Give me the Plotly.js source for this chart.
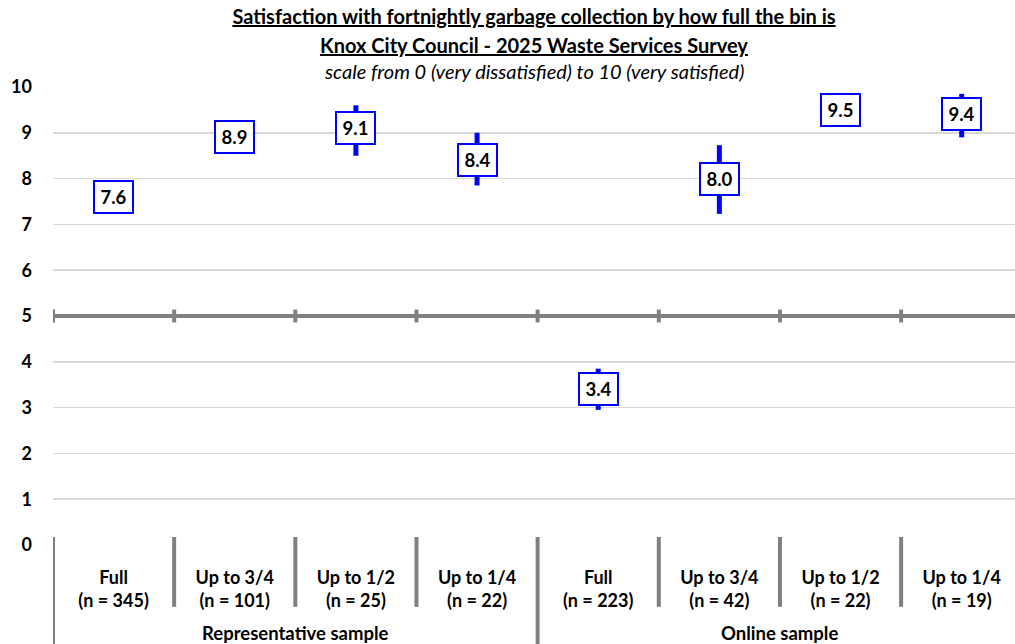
<!DOCTYPE html>
<html>
<head>
<meta charset="utf-8">
<script src="https://cdn.plot.ly/plotly-3.0.1.min.js"></script>
<style>html,body{margin:0;padding:0;background:#fff;}#chart{width:1015px;height:644px;}</style>
</head>
<body>
<div id="chart"></div>
<script>
// ---- data ----
const categories = ['Full', 'Up to 3/4', 'Up to 1/2', 'Up to 1/4', 'Full', 'Up to 3/4', 'Up to 1/2', 'Up to 1/4'];
const sampleSizes = [345, 101, 25, 22, 223, 42, 22, 19];
const groups = ['Representative sample', 'Online sample'];
const groupSizes = [4, 4];
const means = [7.6, 8.9, 9.1, 8.4, 3.4, 8.0, 9.5, 9.4];
const errPlus = [0.25, 0.3, 0.5, 0.6, 0.45, 0.73, 0.37, 0.45];
const errMinus = [0.25, 0.3, 0.6, 0.55, 0.45, 0.77, 0.37, 0.5];
const yTicks = [0, 1, 2, 3, 4, 5, 6, 7, 8, 9, 10];
const titleLines = ['Satisfaction with fortnightly garbage collection by how full the bin is',
                    'Knox City Council - 2025 Waste Services Survey',
                    'scale from 0 (very dissatisfied) to 10 (very satisfied)'];

const FONT = 'Lato, "Open Sans", sans-serif';
const BLUE = '#0000ff';
const GREY = '#808080';
const xIdx = categories.map((_, i) => i);

const trace = {
  x: xIdx, y: means, type: 'scatter', mode: 'markers',
  marker: {size: 1, color: 'rgba(0,0,0,0)'},
  error_y: {type: 'data', symmetric: false, array: errPlus, arrayminus: errMinus,
            color: BLUE, thickness: 5, width: 0},
  hoverinfo: 'skip', showlegend: false
};

const shapes = [];
const annotations = [];

// thick midline at 5 with boundary ticks
shapes.push({type: 'line', xref: 'paper', yref: 'y', x0: 0, x1: 1, y0: 5, y1: 5,
             line: {color: GREY, width: 4}, layer: 'above'});
const boundaries = [];
for (let i = 0; i <= categories.length; i++) boundaries.push(i - 0.5);
boundaries.forEach(b => {
  shapes.push({type: 'line', xref: 'x', yref: 'y', x0: b, x1: b, y0: 4.86, y1: 5.14,
               line: {color: GREY, width: 4}, layer: 'above'});
});
// category dividers below the axis
const groupEdges = [-0.5];
let acc = -0.5;
groupSizes.forEach(s => { acc += s; groupEdges.push(acc); });
boundaries.forEach(b => {
  const isGroup = groupEdges.some(g => Math.abs(g - b) < 1e-9);
  shapes.push({type: 'line', xref: 'x', yref: 'paper', x0: b, x1: b,
               y0: 0.0175, y1: isGroup ? -0.22 : -0.135,
               line: {color: GREY, width: 4}, layer: 'above'});
});

// value boxes
means.forEach((v, i) => {
  annotations.push({x: i, y: v, xref: 'x', yref: 'y', text: '<b>' + v.toFixed(1) + '</b>',
    showarrow: false, font: {family: FONT, size: 18.5, color: '#000'},
    bgcolor: '#fff', bordercolor: BLUE, borderwidth: 2, borderpad: 1,
    width: 35, height: 28, align: 'center', valign: 'middle'});
});

// group labels
let start = 0;
groups.forEach((g, k) => {
  const center = start + (groupSizes[k] - 1) / 2;
  annotations.push({x: center, y: -0.192, xref: 'x', yref: 'paper', text: '<b>' + g + '</b>',
    showarrow: false, yanchor: 'middle', font: {family: FONT, size: 18.5, color: '#000'}});
  start += groupSizes[k];
});

// subtitle lines
annotations.push({x: 0.5, y: 1.092, xref: 'paper', yref: 'paper', yanchor: 'middle',
  text: '<u><b>' + titleLines[1] + '</b></u>', showarrow: false,
  font: {family: FONT, size: 20, color: '#000'}});
annotations.push({x: 0.5, y: 1.035, xref: 'paper', yref: 'paper', yanchor: 'middle',
  text: '<i>' + titleLines[2] + '</i>', showarrow: false,
  font: {family: FONT, size: 20, color: '#000'}});

const layout = {
  width: 1015, height: 644,
  margin: {l: 53, r: 0, t: 87, b: 99},
  paper_bgcolor: '#fff', plot_bgcolor: '#fff',
  title: {text: '<u><b>' + titleLines[0] + '</b></u>', x: 0.5, xref: 'paper', xanchor: 'center',
          y: 1 - 17 / 644, yanchor: 'middle', font: {family: FONT, size: 20, color: '#000'}},
  xaxis: {range: [-0.5, 7.44], tickvals: xIdx,
          ticktext: categories.map((c, i) => '<b>' + c + '</b><br><b>(n = ' + sampleSizes[i] + ')</b>'),
          showgrid: false, zeroline: false, showline: false, ticks: '',
          ticklabelstandoff: 20,
          tickfont: {family: FONT, size: 18, color: '#000'}, fixedrange: true},
  yaxis: {range: [0, 10], tickvals: yTicks, ticktext: yTicks.map(t => '<b>' + t + '</b>'),
          showgrid: true, gridcolor: '#d9d9d9', gridwidth: 1.5, zeroline: false, showline: false,
          ticks: '', ticklabelstandoff: 20,
          tickfont: {family: FONT, size: 18, color: '#000'}, fixedrange: true},
  shapes: shapes, annotations: annotations, showlegend: false
};

Plotly.newPlot('chart', [trace], layout, {displayModeBar: false, staticPlot: true});
</script>
</body>
</html>
